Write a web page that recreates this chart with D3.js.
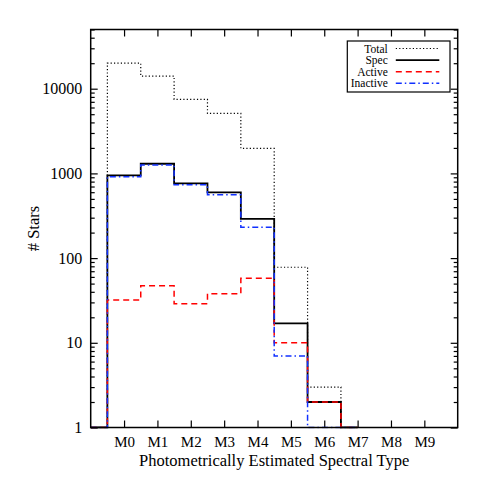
<!DOCTYPE html>
<meta charset="utf-8">
<script src="https://d3js.org/d3.v7.min.js"></script>
<style>
  body { margin: 0; background: #fff; }
  text { font-family: "Liberation Serif", "Times New Roman", serif; fill: #000; }
</style>
<div id="chart"></div>
<script>
// spectral type tick labels (M0..M9) and the bin positions the histograms use
const tickLabels = ["M0", "M1", "M2", "M3", "M4", "M5", "M6", "M7", "M8", "M9"];
const bins = [-1, 0, 1, 2, 3, 4, 5, 6, 7];

// star counts per bin (0 = empty, drawn on the bottom axis)
const total    = [0, 20000, 14100, 7500, 5100, 1970, 78, 3, 0];
const spec     = [0, 947, 1300, 762, 598, 290, 17, 2, 0];
const active   = [0, 32, 47, 29, 38, 58, 10, 2, 0];
const inactive = [0, 915, 1253, 733, 560, 232, 7, 0, 0];

const seriesNames = ["Total", "Spec", "Active", "Inactive"];

const W = 485, H = 485;
const margin = {top: 29.5, right: 27.3, bottom: 57.5, left: 90.7};
const width = W - margin.left - margin.right,
      height = H - margin.top - margin.bottom;

const svg = d3.select("#chart").append("svg")
    .attr("width", W).attr("height", H);
const g = svg.append("g")
    .attr("transform", `translate(${margin.left},${margin.top})`);

const x = d3.scaleLinear().domain([-1, 10]).range([0, width]);
const y = d3.scaleLog().domain([1, 5e4]).range([height, 0]);

// ticks
const major = [1, 10, 100, 1000, 10000];
const minor = [];
[1, 10, 100, 1000, 10000].forEach(d => {
  for (let k = 2; k <= 9; k++) if (d * k <= 5e4) minor.push(d * k);
});
const xt = d3.range(0, 10);

function styleAxis(sel) {
  sel.select(".domain").remove();
  sel.selectAll(".tick line").attr("stroke", "#000").attr("stroke-width", 1.2);
}

g.append("g").attr("transform", `translate(0,${height})`)
  .call(d3.axisBottom(x).tickValues(xt).tickSize(-7).tickPadding(9)
    .tickFormat(d => tickLabels[d]))
  .call(styleAxis)
  .selectAll("text").style("font-size", "15px");

g.append("g")
  .call(d3.axisTop(x).tickValues(xt).tickSize(-7).tickFormat(""))
  .call(styleAxis);

g.append("g")
  .call(d3.axisLeft(y).tickValues(major).tickSize(-7).tickPadding(8.5)
    .tickFormat(d3.format("d")))
  .call(styleAxis)
  .selectAll("text").style("font-size", "16px");
g.append("g")
  .call(d3.axisLeft(y).tickValues(minor).tickSize(-4).tickFormat(""))
  .call(styleAxis);

g.append("g").attr("transform", `translate(${width},0)`)
  .call(d3.axisRight(y).tickValues(major).tickSize(-7).tickFormat(""))
  .call(styleAxis);
g.append("g").attr("transform", `translate(${width},0)`)
  .call(d3.axisRight(y).tickValues(minor).tickSize(-4).tickFormat(""))
  .call(styleAxis);

// histograms
g.append("clipPath").attr("id", "clip")
  .append("rect").attr("width", width).attr("height", height + 1);

const line = d3.line()
  .x((d, i) => x(bins[i]))
  .y(d => y(Math.max(d, 1)))
  .curve(d3.curveStep);

const styles = {
  Total:    {data: total,    color: "#000", w: 1.2, dash: "1.2,2.2"},
  Spec:     {data: spec,     color: "#000", w: 1.8, dash: null},
  Active:   {data: active,   color: "#ff0000", w: 1.5, dash: "6,4"},
  Inactive: {data: inactive, color: "#1030ff", w: 1.5, dash: "6,3,1.5,3"}
};

const plot = g.append("g").attr("clip-path", "url(#clip)");
seriesNames.forEach(n => {
  const s = styles[n];
  plot.append("path")
    .datum(s.data)
    .attr("fill", "none")
    .attr("stroke", s.color)
    .attr("stroke-width", s.w)
    .attr("stroke-dasharray", s.dash)
    .attr("d", line);
});

// frame
g.append("rect")
  .attr("width", width).attr("height", height)
  .attr("fill", "none").attr("stroke", "#000").attr("stroke-width", 1.5);

// axis titles
svg.append("text")
  .attr("x", margin.left + width / 2).attr("y", 466)
  .attr("text-anchor", "middle").style("font-size", "16.5px")
  .text("Photometrically Estimated Spectral Type");

svg.append("text")
  .attr("transform", `translate(39,${margin.top + height / 2}) rotate(-90)`)
  .attr("text-anchor", "middle").style("font-size", "16.5px")
  .text("# Stars");

// legend
const lg = svg.append("g").attr("transform", "translate(347.3,41)");
lg.append("rect").attr("width", 102.7).attr("height", 51)
  .attr("fill", "#fff").attr("stroke", "#000").attr("stroke-width", 1.2);
seriesNames.forEach((n, i) => {
  const s = styles[n];
  const yy = 7.5 + i * 11.6;
  lg.append("text").attr("x", 40.5).attr("y", yy + 4)
    .attr("text-anchor", "end").style("font-size", "11.5px").text(n);
  lg.append("line")
    .attr("x1", 48.5).attr("x2", 92).attr("y1", yy).attr("y2", yy)
    .attr("stroke", s.color).attr("stroke-width", s.w)
    .attr("stroke-dasharray", s.dash);
});
</script>
